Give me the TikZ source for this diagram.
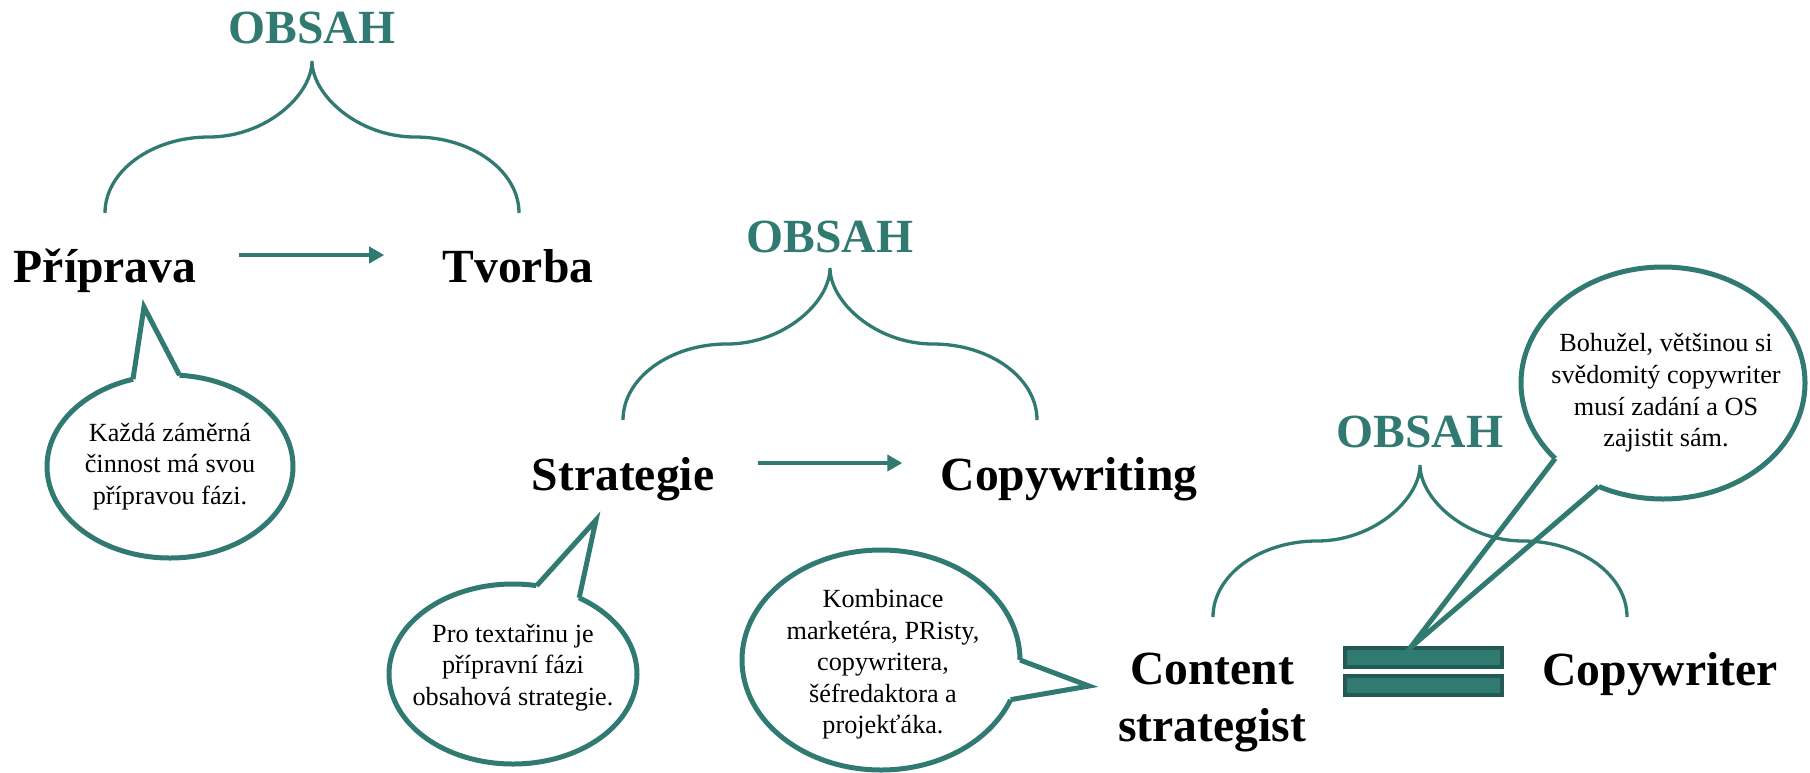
\documentclass[tikz,border=0pt]{standalone}
\usepackage{fontspec}
\setmainfont{Liberation Serif}
\usepackage{xcolor}
\usepackage{tikz}
\usetikzlibrary{arrows.meta, positioning, shapes.geometric, calc}
\definecolor{obsah_teal}{RGB}{49, 122, 113}
\definecolor{obsah_dark}{RGB}{35, 90, 82}

\tikzset{
  obsahbrace/.pic={
    \draw[obsah_teal, line width=1.65pt]
      (-207,-152) .. controls (-207,-110) and (-160,-76) .. (-103,-76)
      .. controls (-46,-76) and (0,-34) .. (0,0)
      .. controls (0,-34) and (46,-76) .. (103,-76)
      .. controls (160,-76) and (207,-110) .. (207,-152);
  },
}

\begin{document}
\begin{tikzpicture}[x=0.5pt, y=0.5pt,
    term/.style={font=\fontsize{23.8}{28.5}\selectfont\bfseries, inner sep=0pt},
    obsah/.style={term, text=obsah_teal},
    bubble/.style={ellipse, draw=obsah_teal, line width=2.5pt, fill=white,
                   inner sep=0pt, outer sep=0pt},
    bubtext/.style={font=\fontsize{13.1}{15.8}\selectfont, align=center, inner sep=0pt},
    bubtail/.style={draw=obsah_teal, line width=2.5pt},
    flow/.style={-{Triangle[length=7.5pt, width=8pt]}, obsah_teal, line width=1.9pt},
    eqbar/.style={rectangle, draw=obsah_dark, fill=obsah_teal, line width=2pt,
                  minimum width=78.5pt, minimum height=9.5pt, inner sep=0pt, outer sep=0pt}]
  \useasboundingbox (0,0) rectangle (1810,-772);

  % speech bubbles
  \node[bubble, minimum width=123pt, minimum height=91.5pt] (bub1) at (170,-466.5) {};
  \node[bubble, minimum width=124pt, minimum height=90pt] (bub2) at (513,-674) {};
  \node[bubble, minimum width=139pt, minimum height=110pt] (bub3) at (881,-660) {};
  \node[bubble, minimum width=142pt, minimum height=116pt] (bub4) at (1663,-383) {};

  \node[eqbar] (eqtop) at (1423.5,-657.5) {};
  \node[eqbar] (eqbot) at (1423.5,-685.5) {};

  \coordinate (tip1) at (144,-307);
  \coordinate (tip2) at (596,-520);
  \coordinate (tip3) at (1089,-686);
  \coordinate (tip4) at ([xshift=-6.75pt]eqtop.north);

  \fill[white] (bub1.113) -- (tip1) -- (bub1.84) -- ($(bub1.84)!0.15!(bub1.center)$)
    -- ($(bub1.113)!0.15!(bub1.center)$) -- cycle;
  \draw[bubtail] (bub1.113) -- (tip1) -- (bub1.84);
  \fill[white] (bub2.75) -- (tip2) -- (bub2.49) -- ($(bub2.49)!0.15!(bub2.center)$)
    -- ($(bub2.75)!0.15!(bub2.center)$) -- cycle;
  \draw[bubtail] (bub2.75) -- (tip2) -- (bub2.49);
  \fill[white] (bub3.0) -- (tip3) -- (bub3.-17) -- ($(bub3.-17)!0.15!(bub3.center)$)
    -- ($(bub3.0)!0.15!(bub3.center)$) -- cycle;
  \draw[bubtail] (bub3.0) -- (tip3) -- (bub3.-17);
  \fill[white] (bub4.215) -- (tip4) -- (bub4.238) -- ($(bub4.238)!0.15!(bub4.center)$)
    -- ($(bub4.215)!0.15!(bub4.center)$) -- cycle;
  \draw[bubtail] (bub4.215) -- (tip4) -- (bub4.238);

  \node[bubtext] (txt1) at (bub1.center) {Každá záměrná\\činnost má svou\\přípravou fázi.};
  \node[bubtext] (txt2) at ([yshift=3.3pt]bub2.center) {Pro textařinu je\\přípravní fázi\\obsahová strategie.};
  \node[bubtext] (txt3) at ([xshift=1pt, yshift=-2.2pt]bub3.center) {Kombinace\\marketéra, PRisty,\\copywritera,\\šéfredaktora a\\projekťáka.};
  \node[bubtext] (txt4) at ([xshift=1.5pt, yshift=-5pt]bub4.center) {Bohužel, většinou si\\svědomitý copywriter\\musí zadání a OS\\zajistit sám.};

  % OBSAH headings with their braces
  \node[obsah, anchor=base] (obsah1) at (312,-43) {OBSAH};
  \node[obsah, anchor=base] (obsah2) at (830,-252) {OBSAH};
  \node[obsah, anchor=base] (obsah3) at (1420,-447) {OBSAH};
  \pic at ([yshift=-9pt]obsah1.base) {obsahbrace};
  \pic at ([yshift=-8pt]obsah2.base) {obsahbrace};
  \pic at ([yshift=-9pt]obsah3.base) {obsahbrace};

  % terms
  \node[term, anchor=base] (prip) at (105,-282) {Příprava};
  \node[term, anchor=base] (tvor) at (518,-282) {Tvorba};
  \node[term, anchor=base] (strat) at (623,-490) {Strategie};
  \node[term, anchor=base] (copyw) at (1069,-490) {Copywriting};
  \node[term, align=center] (cstrat) at (1212,-702.5) {Content\\strategist};
  \node[term, anchor=base] (copyr) at (1660,-685) {Copywriter};

  \draw[flow] ([xshift=21pt, yshift=13.5pt]prip.base east) -- ([xshift=-29pt, yshift=13.5pt]tvor.base west);
  \draw[flow] ([xshift=21.5pt, yshift=13.5pt]strat.base east) -- ([xshift=-19pt, yshift=13.5pt]copyw.base west);
\end{tikzpicture}
\end{document}
